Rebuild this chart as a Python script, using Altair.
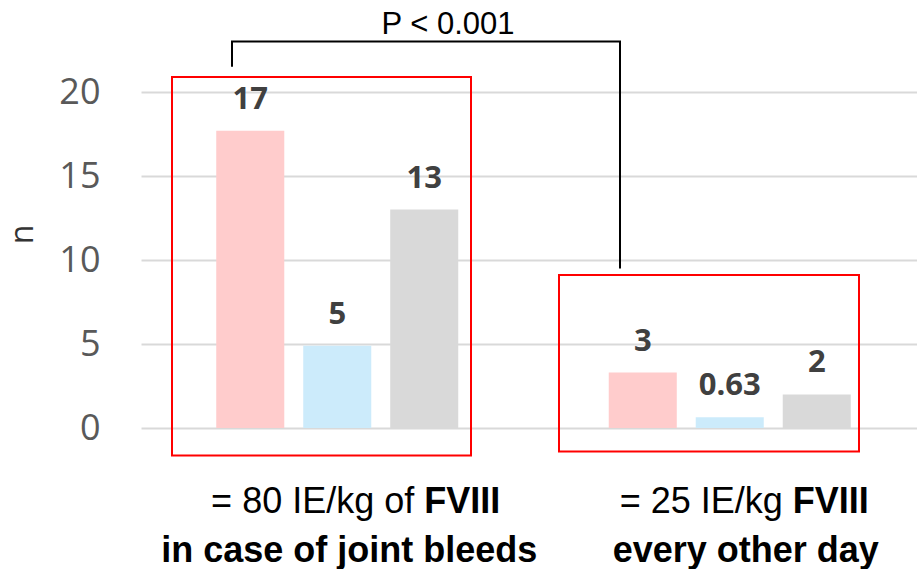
import altair as alt
import pandas as pd

# ---- data ----
groups = ["80 IE/kg on demand", "25 IE/kg prophylaxis"]
series = ["Series 1", "Series 2", "Series 3"]
bar_values = [17.7, 4.9, 13.0, 3.3, 0.64, 2.0]
bar_labels = ["17", "5", "13", "3", "0.63", "2"]
colors = ["#FFCCCC", "#CCEBFB", "#D9D9D9"]
p_text = "P < 0.001"

rows = []
i = 0
for g in groups:
    for s in series:
        rows.append({"group": g, "series": s, "value": bar_values[i], "label": bar_labels[i]})
        i += 1
df = pd.DataFrame(rows)

W, H = 776, 336
xscale = alt.Scale(domain=groups, range=[0, 785], paddingInner=0, paddingOuter=0)
yscale = alt.Scale(domain=[0, 20], nice=False, zero=True)

base = alt.Chart(df)

bars = base.mark_bar().encode(
    x=alt.X("group:N", scale=xscale, axis=None, sort=groups),
    xOffset=alt.XOffset("series:N", sort=series,
                        scale=alt.Scale(paddingInner=0.218, paddingOuter=0.865)),
    y=alt.Y("value:Q", scale=yscale,
            axis=alt.Axis(values=[0, 5, 10, 15, 20], domain=False, ticks=False,
                          labelPadding=41, labelFontSize=36, labelFont="Open Sans",
                          labelColor="#595959", gridColor="#D9D9D9", gridWidth=2,
                          title="n", titleFont="Open Sans", titleFontSize=32,
                          titleFontWeight="normal", titleColor="#333333",
                          titleAngle=270, titleX=-119, titleY=142,
                          titleAlign="center", titleBaseline="middle")),
    color=alt.Color("series:N", scale=alt.Scale(domain=series, range=colors), legend=None),
)

labels = base.mark_text(dy=-22, baseline="alphabetic", fontSize=31, fontWeight="bold",
                        font="Open Sans", color="#404040").encode(
    x=alt.X("group:N", scale=xscale, sort=groups),
    xOffset=alt.XOffset("series:N", sort=series),
    y=alt.Y("value:Q", scale=yscale),
    text="label:N",
)

one = pd.DataFrame({"a": [0]})

def box(x1, x2, y1, y2):
    return alt.Chart(one).mark_rect(fill=None, stroke="#FF0000", strokeWidth=2).encode(
        x=alt.value(x1), x2=alt.value(x2), y=alt.datum(y1), y2=alt.datum(y2))

box1 = box(31, 330, 20.9, -1.63)
box2 = box(418, 718, 9.1, -1.4)

def rule_h(x1, x2, yv):
    return alt.Chart(one).mark_rule(color="black", strokeWidth=2).encode(
        x=alt.value(x1), x2=alt.value(x2), y=alt.datum(yv))

def rule_v(xp, y1, y2):
    return alt.Chart(one).mark_rule(color="black", strokeWidth=2).encode(
        x=alt.value(xp), y=alt.datum(y1), y2=alt.datum(y2))

bracket = rule_h(90, 480, 23.0) + rule_v(91, 23.0, 21.5) + rule_v(479, 23.0, 9.5)

ptext = alt.Chart(one).mark_text(font="Liberation Sans", fontSize=31, color="black",
                                 baseline="alphabetic", align="center").encode(
    x=alt.value(307), y=alt.datum(23.45), text=alt.value(p_text))

def cat_text(g, t, dx, yv, bold, align):
    return alt.Chart(pd.DataFrame({"group": [g], "t": [t]})).mark_text(
        font="Liberation Sans", fontSize=36, color="black", baseline="alphabetic",
        fontWeight="bold" if bold else "normal", align=align, dx=dx).encode(
        x=alt.X("group:N", scale=xscale, sort=groups), y=alt.datum(yv), text="t:N")

y1, y2 = -5.08, -7.95
cats = (
    cat_text(groups[0], "= 80 IE/kg of", 77, y1, False, "right")
    + cat_text(groups[0], "FVIII", 87, y1, True, "left")
    + cat_text(groups[0], "in case of joint bleeds", 12, y2, True, "center")
    + cat_text(groups[1], "= 25 IE/kg", 53, y1, False, "right")
    + cat_text(groups[1], "FVIII", 63, y1, True, "left")
    + cat_text(groups[1], "every other day", 16, y2, True, "center")
)

chart = alt.layer(bars, labels, box1, box2, bracket, ptext, cats).properties(
    width=W, height=H,
    autosize=alt.AutoSizeParams(type="none"),
    padding={"left": 141, "top": 92, "right": 0, "bottom": 141},
    background="white",
).configure_view(strokeWidth=0)

chart.save("out.html", embed_options={"renderer": "svg", "actions": False})
